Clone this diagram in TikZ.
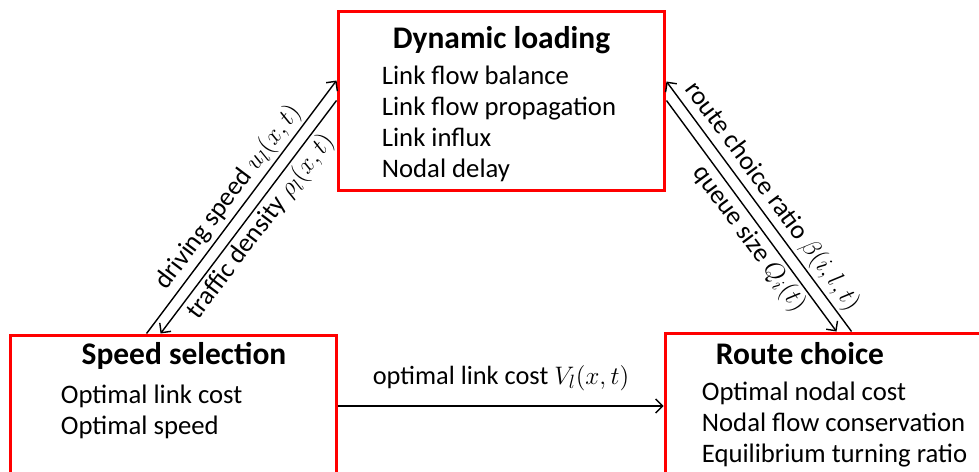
\documentclass[tikz,border=0pt]{standalone}
\usepackage{fontspec}
\setmainfont{Carlito}
\usetikzlibrary{arrows.meta,calc,positioning}
\tikzset{box/.style={draw=red, line width=1.7pt, minimum width=6.54cm, inner sep=0pt}}
\tikzset{head/.style={font=\fontsize{17.9}{20}\selectfont\bfseries, inner sep=0pt}}
\tikzset{items/.style={font=\fontsize{15.2}{17.6}\selectfont, align=left, anchor=west, inner sep=0pt}}
\tikzset{lab/.style={font=\fontsize{15}{17}\selectfont, inner sep=1.5pt}}
\tikzset{line/.style={draw, line width=0.8pt, -{Straight Barb[length=4pt,width=8pt]}}}

\begin{document}
\begin{tikzpicture}[x=0.02cm,y=-0.02cm]
	\useasboundingbox (0,0) rectangle (979,472);
	\clip (0,0) rectangle (979,472);
	\node [box, minimum height=3.6cm]  (dl) at (501.5,101) {};
	\node [box, minimum height=2.84cm] (ss) at (173.5,406) {};
	\node [box, minimum height=2.84cm] (rc) at (828.5,404) {};
	%
	\node [head] (dlhead) at ($(dl.north)+(0,31)$)     {Dynamic loading};
	\node [head] (sshead) at ($(ss.north)+(10.5,22)$)  {Speed selection};
	\node [head] (rchead) at ($(rc.north)+(-28.5,22)$) {Route choice};
	\node [items] (dllist) at ($(dl.north west)+(45,114)$) {Link flow balance\\Link flow propagation\\Link influx\\Nodal delay};
	\node [items] (sslist) at ($(ss.north west)+(52,78)$)  {Optimal link cost\\Optimal speed};
	\node [items] (rclist) at ($(rc.north west)+(38,93)$)  {Optimal nodal cost\\Nodal flow conservation\\Equilibrium turning ratio};
	%
	\path [line] ($(ss.north west)+(138,0)$) -- ($(dl.north west)+(0,71)$) node [lab, midway, above, sloped] {driving speed $u_l(x,t)$};
	\path [line] ($(dl.north west)+(0,91)$) -- ($(ss.north west)+(152,0)$) node [lab, midway, below, sloped] {traffic density $\rho_l(x,t)$};
	\path [line] ($(rc.north west)+(188,0)$) -- ($(dl.north east)+(0,72)$) node [lab, midway, above, sloped] {route choice ratio $\beta(i,l,t)$};
	\path [line] ($(dl.north east)+(0,91)$) -- ($(rc.north west)+(173,0)$) node [lab, pos=0.56, below, sloped] {queue size $Q_i(t)$};
	\path [line] (ss.east) -- (ss.east -| rc.west) node [lab, midway, above=7pt] {optimal link cost $V_l(x,t)$};
\end{tikzpicture}
\end{document}
